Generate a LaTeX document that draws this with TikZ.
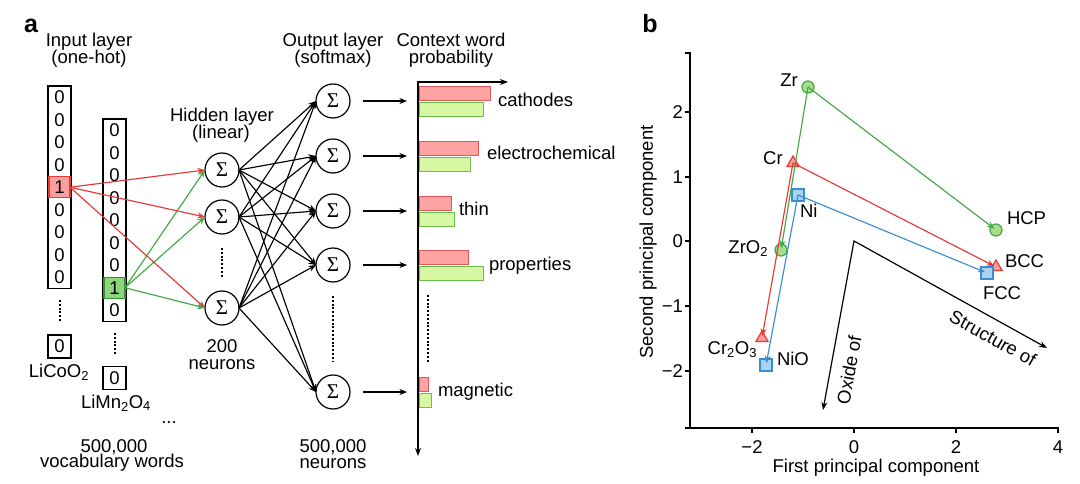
\documentclass[tikz,border=0pt]{standalone}
\usepackage{fontspec}
\setmainfont{Liberation Sans}
\newfontfamily\sigfont{Liberation Serif}
\usetikzlibrary{arrows.meta,shapes.geometric}
\definecolor{cred}{HTML}{E53935}
\definecolor{credl}{HTML}{F8A0A0}
\definecolor{cgreen}{HTML}{43A843}
\definecolor{cgreenl}{HTML}{A6DE8C}
\definecolor{cgcell}{HTML}{8ED67A}
\definecolor{cgbar}{HTML}{D8F7A2}
\definecolor{cgbarl}{HTML}{6CBF4C}
\definecolor{crbar}{HTML}{FFA3A3}
\definecolor{crbarl}{HTML}{E25858}
\definecolor{cblue}{HTML}{3A8DD0}
\definecolor{cbluel}{HTML}{A9D3F0}
\begin{document}
\begin{tikzpicture}[x=1pt,y=-1pt,
  every node/.style={inner sep=0pt, outer sep=0pt, font=\fontsize{18.5}{18}\selectfont},
  lettr/.style={font=\fontsize{25}{25}\selectfont\bfseries, anchor=base},
  txt/.style={anchor=base},
  colbox/.style={draw, line width=1.3pt, fill=white, minimum width=23pt, minimum height=202.5pt, anchor=north},
  onebox/.style={draw, line width=1.3pt, fill=white, minimum width=23pt, minimum height=23pt},
  hotr/.style={draw=cred, fill=credl, line width=1.3pt, minimum width=21pt, minimum height=21pt},
  hotg/.style={draw=cgreen!85!black, fill=cgcell, line width=1.3pt, minimum width=21pt, minimum height=21pt},
  neuron/.style={circle, draw, line width=1.2pt, minimum size=34pt, fill=white, font=\sigfont\fontsize{21}{21}\selectfont},
  dotl/.style={line width=2pt, dash pattern=on 2pt off 1.8pt},
  tipa/.style={-{Stealth[length=7.5pt,width=6pt]}},
  blk/.style={tipa, line width=1.15pt},
  redc/.style={tipa, line width=1.15pt, draw=cred},
  grnc/.style={tipa, line width=1.15pt, draw=cgreen},
  bluc/.style={tipa, line width=1.15pt, draw=cblue},
  rbar/.style={draw=crbarl, fill=crbar, line width=0.9pt},
  gbar/.style={draw=cgbarl, fill=cgbar, line width=0.9pt},
  axisl/.style={line width=1.2pt},
  gmark/.style={circle, draw=cgreen, fill=cgreenl, line width=1.2pt, minimum size=12pt},
  rmark/.style={regular polygon, regular polygon sides=3, draw=cred, fill=credl, line width=1.2pt, minimum size=14pt},
  bmark/.style={rectangle, draw=cblue, fill=cbluel, line width=1.2pt, minimum size=12pt}
]
\useasboundingbox[fill=white] (0,0) rectangle (1080,484);

% ---------------- panel a ----------------
\node[lettr] (la) at (31,33) {a};
\node[txt] (inA) at (89,47) {Input layer};
\node[txt] (inB) at (89,64) {(one-hot)};

% column 1
\node[colbox] (col1) at (59.5,86) {};
\foreach \i in {0,1,2,3,5,6,7,8}{
  \node (a\i) at (59.5,{97.25+22.5*\i}) {0};
}
\node[hotr] (one1) at (59.5,187.25) {1};
\draw[dotl] (59.5,300) -- (59.5,322);
\node[onebox] (e1) at (59.5,346.5) {0};
\node[txt] (w1) at (59,377) {LiCoO\textsubscript{2}};

% column 2
\node[colbox] (col2) at (114.5,119) {};
\foreach \i in {0,1,2,3,4,5,6,8}{
  \node (b\i) at (114.5,{130.25+22.5*\i}) {0};
}
\node[hotg] (one2) at (114.5,287.75) {1};
\draw[dotl] (114.5,333) -- (114.5,355);
\node[onebox] (e2) at (114.5,378) {0};
\node[txt] (w2) at (116,408) {LiMn\textsubscript{2}O\textsubscript{4}};
\node[txt] (dd) at (169,423) {...};
\node[txt] (vA) at (114,452) {500,000};
\node[txt] (vB) at (112,467) {vocabulary words};

% hidden layer
\node[txt] (hA) at (222,122) {Hidden layer};
\node[txt] (hB) at (221,139) {(linear)};
\node[neuron] (h1) at (222,170) {Σ};
\node[neuron] (h2) at (222,217) {Σ};
\node[neuron] (h3) at (222,308) {Σ};
\draw[dotl] (222,248) -- (222,277);
\node[txt] (nA) at (222,352) {200};
\node[txt] (nB) at (222,369) {neurons};

% output layer
\node[txt] (oA) at (333,47) {Output layer};
\node[txt] (oB) at (333,64) {(softmax)};
\foreach \n/\y in {1/101,2/156,3/211,4/265,5/392}{
  \node[neuron] (o\n) at (333,\y) {Σ};
  \coordinate (t\n) at (407,\y);
}
\draw[dotl] (333,296) -- (333,362);
\node[txt] (mA) at (333,452) {500,000};
\node[txt] (mB) at (333,468) {neurons};

% input -> hidden
\foreach \h in {1,2,3}{
  \draw[redc] (one1.east) -- (h\h.west);
  \draw[grnc] (one2.east) -- (h\h.west);
}
% hidden -> output
\foreach \h in {1,2,3}{
  \foreach \o in {1,...,5}{
    \draw[blk] (h\h.east) -- (o\o.west);
  }
}
% output -> chart
\foreach \n in {1,...,5}{
  \draw[blk, shorten <=13pt] (o\n) -- (t\n);
}

% chart
\node[txt] (cA) at (451,47) {Context word};
\node[txt] (cB) at (451,64) {probability};
\foreach \y/\r/\g in {101/490/483,156/478/470,211/451/454,265/468/483,392/428/431}{
  \draw[rbar] (419,\y-15) rectangle (\r,\y-1);
  \draw[gbar] (419,\y+1) rectangle (\g,\y+15);
}
\coordinate (ax0) at (418,82);
\coordinate (axr) at (508,82);
\coordinate (axb) at (418,456);
\draw[line width=1.3pt, {Stealth[length=8pt,width=6pt]}-{Stealth[length=8pt,width=6pt]}] (axr) -- (ax0) -- (axb);
\draw[dotl] (428,295) -- (428,363);
\node[anchor=base west] (k1) at (498,107) {cathodes};
\node[anchor=base west] (k2) at (487,160) {electrochemical};
\node[anchor=base west] (k3) at (459,215) {thin};
\node[anchor=base west] (k4) at (489,270) {properties};
\node[anchor=base west] (k5) at (438,396) {magnetic};

% ---------------- panel b ----------------
\node[lettr] (lb) at (650,33) {b};
\draw[axisl] (685,53) -- (690,53) -- (690,428);
\draw[axisl] (685,428) -- (1058,428) -- (1058,433);
\foreach \x in {752,854,956}{ \draw[axisl] (\x,428) -- (\x,433); }
\foreach \y in {112,177,241,306,371}{ \draw[axisl] (685,\y) -- (690,\y); }
\foreach \x/\t in {752/−2,854/0,956/2,1058/4}{ \node (xt\x) at (\x,447) {\t}; }
\foreach \y/\t in {112/2,177/1,241/0,306/−1,371/−2}{ \node[anchor=east] (yt\y) at (683,\y) {\t}; }
\node[txt] (xl) at (876,472) {First principal component};
\node[rotate=90] (yl) at (648,242) {Second principal component};

% vectors
\coordinate (orig) at (854,241);
\coordinate (soE) at (1047,348);
\coordinate (oxE) at (823,410);
\draw[line width=1.2pt, {Stealth[length=8pt,width=6pt]}-{Stealth[length=8pt,width=6pt]}] (oxE) -- (orig) -- (soE);
\node[rotate=-29] (sl) at (993,338) {Structure of};
\node[rotate=79.6] (ol) at (849,370) {Oxide of};

% markers
\node[gmark] (zr) at (808,87) {};
\node[rmark] (cr) at (793,163) {};
\node[bmark] (ni) at (798,195) {};
\node[gmark] (zro) at (781,250) {};
\node[rmark] (cro) at (762,338) {};
\node[bmark] (nio) at (766,365) {};
\node[gmark] (hcp) at (996,230) {};
\node[rmark] (bcc) at (996,267) {};
\node[bmark] (fcc) at (987,273) {};

\draw[grnc, shorten >=2pt] (zr.center) -- (hcp.center);
\draw[grnc, shorten >=2pt] (zr.center) -- (zro.center);
\draw[redc, shorten >=2pt] (cr.center) -- (bcc.center);
\draw[redc, shorten >=2pt] (cr.center) -- (cro.center);
\draw[bluc, shorten >=2pt] (ni.center) -- (fcc.center);
\draw[bluc, shorten >=2pt] (ni.center) -- (nio.center);

\node[txt] (zrl) at (789,87) {Zr};
\node[txt] (crl) at (773,165) {Cr};
\node[anchor=base west] (nil) at (800,218) {Ni};
\node[anchor=base east] (zrol) at (768,253) {ZrO\textsubscript{2}};
\node[anchor=base east] (crol) at (757,354) {Cr\textsubscript{2}O\textsubscript{3}};
\node[anchor=base west] (niol) at (777,365) {NiO};
\node[anchor=base west] (hcpl) at (1007,225) {HCP};
\node[anchor=base west] (bccl) at (1005,267) {BCC};
\node[anchor=base west] (fccl) at (983,299) {FCC};
\end{tikzpicture}
\end{document}
